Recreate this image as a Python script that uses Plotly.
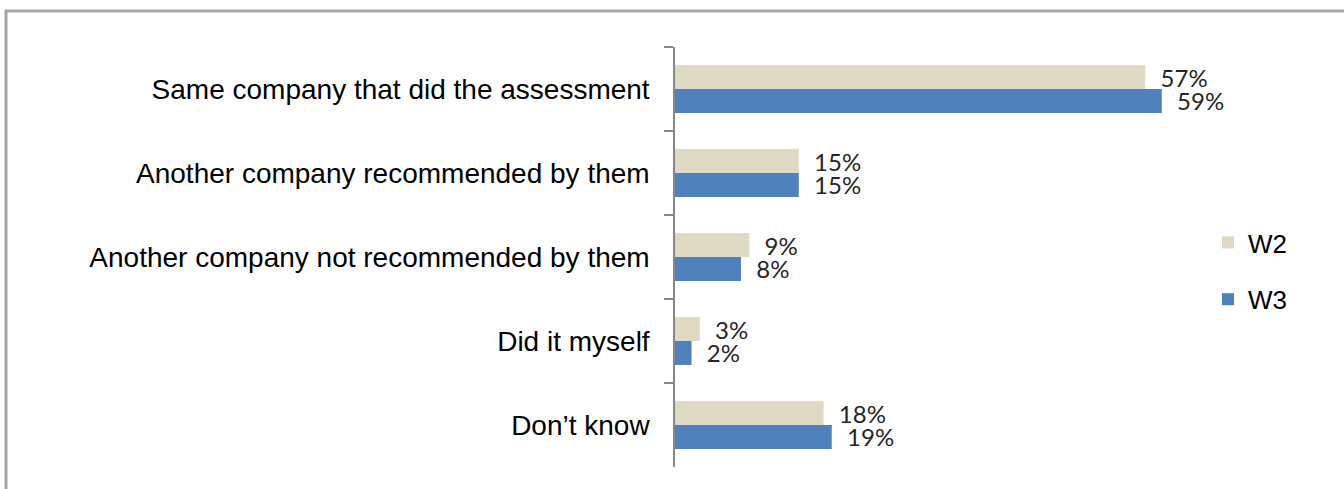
import plotly.graph_objects as go

# Survey answers: who carried out the work after the assessment
categories = [
    "Same company that did the assessment",
    "Another company recommended by them",
    "Another company not recommended by them",
    "Did it myself",
    "Don\u2019t know",
]
w2_values = [57, 15, 9, 3, 18]
w3_values = [59, 15, 8, 2, 19]

W2_COLOR = "#DDD9C3"
W3_COLOR = "#4F81BD"

W, H = 1344, 489
PLOT_L, PLOT_R, PLOT_T, PLOT_B = 675, 1180, 47, 467
PX_PER_PCT = 8.25

label_font = dict(family="Lato, 'Open Sans', sans-serif", size=24, color="#262626")

fig = go.Figure()
for name, vals, color in [("W2", w2_values, W2_COLOR), ("W3", w3_values, W3_COLOR)]:
    fig.add_trace(go.Bar(
        name=name,
        y=categories,
        x=vals,
        orientation="h",
        marker=dict(color=color, line=dict(width=0)),
        text=[f"{v}%" for v in vals],
        texttemplate="  %{text}",
        textposition="outside",
        textfont=label_font,
        constraintext="none",
        cliponaxis=False,
        legendgroup=name,
        hoverinfo="skip",
    ))

plot_w = PLOT_R - PLOT_L
plot_h = PLOT_B - PLOT_T

def px_x(px):
    return (px - PLOT_L) / plot_w

def px_y(py):
    return (PLOT_B - py) / plot_h

fig.update_layout(
    width=W, height=H,
    margin=dict(l=PLOT_L, r=W - PLOT_R, t=PLOT_T, b=H - PLOT_B, pad=0),
    paper_bgcolor="white",
    plot_bgcolor="white",
    barmode="group",
    bargap=0.43,
    bargroupgap=0,
    showlegend=True,
    legend=dict(
        x=px_x(1208), y=px_y(271), xanchor="left", yanchor="middle",
        font=dict(family="'Liberation Sans', Arial, sans-serif", size=26, color="#000000"),
        traceorder="grouped",
        tracegroupgap=20,
        bgcolor="rgba(0,0,0,0)",
        itemclick=False, itemdoubleclick=False,
    ),
    xaxis=dict(
        range=[0, plot_w / PX_PER_PCT],
        visible=False,
        showgrid=False, zeroline=False,
    ),
    yaxis=dict(
        type="category",
        autorange="reversed",
        showline=True, linecolor="#868686", linewidth=1.5,
        ticks="outside", ticklen=9, tickwidth=1.5, tickcolor="#868686",
        tickson="boundaries",
        ticklabelstandoff=18,
        tickfont=dict(family="'Liberation Sans', Arial, sans-serif", size=28, color="#000000"),
        showgrid=False, zeroline=False,
    ),
    shapes=[
        # chart frame, open past the right and bottom edges
        dict(type="rect", xref="paper", yref="paper",
             x0=px_x(6), x1=px_x(1400), y0=px_y(540), y1=px_y(11),
             line=dict(color="#A6A6A6", width=3), fillcolor="rgba(0,0,0,0)",
             layer="below"),
    ],
)

fig.write_html("out.html")
